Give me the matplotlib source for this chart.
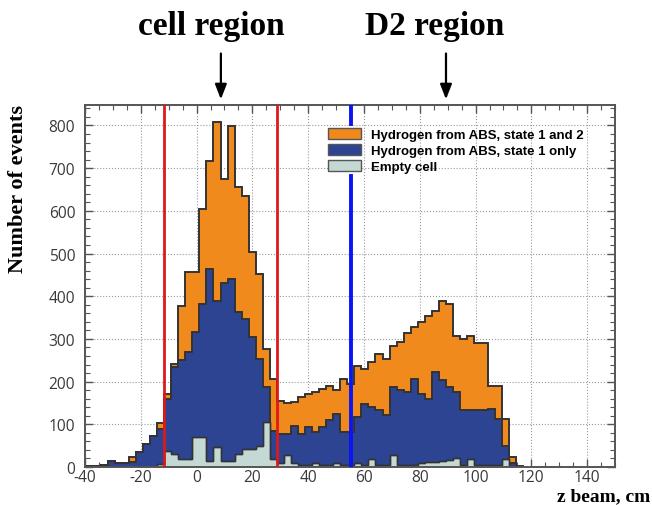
import numpy as np
import matplotlib
matplotlib.use("Agg")
import matplotlib.pyplot as plt
from matplotlib.patches import Patch
from matplotlib.ticker import MultipleLocator

# histogram binning (z beam, cm)
bin_start = -39.4
bin_width = 2.525

# counts per bin
state_1_and_2 = [2, 3, 5, 15, 9, 9, 23, 34, 54, 73, 103,
                 171, 241, 377, 456, 456, 605, 718, 809, 675, 798, 655, 634, 503, 452, 277, 206,
                 155, 150, 152, 164, 170, 175, 183, 189, 180, 207, 195, 237, 230, 245, 265, 253,
                 284, 292, 315, 327, 339, 354, 366, 389, 382, 306, 300, 308, 290, 290, 190, 190,
                 112, 23, 2]
state_1_only = [2, 3, 5, 15, 9, 9, 11, 34, 54, 73, 89,
                159, 234, 250, 270, 316, 382, 464, 388, 430, 441, 362, 347, 304, 254, 187, 85,
                77, 77, 97, 77, 93, 81, 93, 109, 124, 81, 82, 117, 148, 141, 133, 121,
                187, 180, 176, 207, 170, 159, 222, 203, 187, 176, 133, 133, 133, 133, 136, 112,
                50, 10, 0]
empty_cell = [0, 0, 0, 0, 0, 0, 0, 0, 0, 0, 6,
              38, 30, 19, 19, 70, 70, 15, 46, 15, 15, 30, 42, 42, 50, 105, 19,
              9, 28, 9, 4, 4, 9, 4, 4, 9, 4, 4, 9, 4, 19, 4, 4,
              28, 4, 4, 4, 10, 12, 12, 14, 16, 20, 5, 19, 5, 5, 5, 5,
              19, 3, 0]

cell_lines = [-11.6, 29.0]
d2_line = 55.5
x_ticks = [-40, -20, 0, 20, 40, 60, 80, 100, 120, 140]
x_ticklabels = ['-40', '-20', '0', '20', '40', '60', '80', '100', '120', '140']
y_ticks = [0, 100, 200, 300, 400, 500, 600, 700, 800]

edges = bin_start + bin_width * np.arange(len(state_1_and_2) + 1)

orange = '#f08a1c'
blue = '#2d4492'
grey = '#c4d8d4'
edge = '#333333'

fig = plt.figure(figsize=(6.52, 5.06), dpi=100)
ax = fig.add_axes([0.1304, 0.0751, 0.8129, 0.7154])

ax.stairs(state_1_and_2, edges, fill=True, facecolor=orange, edgecolor=edge, lw=1.2, zorder=2)
ax.stairs(state_1_and_2, edges, fill=False, color=edge, lw=1.2, zorder=2.1)
ax.stairs(state_1_only, edges, fill=True, facecolor=blue, edgecolor=edge, lw=1.2, zorder=2.2)
ax.stairs(state_1_only, edges, fill=False, color=edge, lw=1.2, zorder=2.3)
ax.stairs(empty_cell, edges, fill=True, facecolor=grey, edgecolor=edge, lw=1.0, zorder=2.4)
ax.stairs(empty_cell, edges, fill=False, color=edge, lw=1.0, zorder=2.5)

for x in cell_lines:
    ax.axvline(x, color='#dd1a1a', lw=2.0, zorder=4)
# blue line is interrupted behind the legend
ax.axvline(d2_line, ymin=0, ymax=0.804, color='#0a14f5', lw=2.8, zorder=4)
ax.axvline(d2_line, ymin=0.948, ymax=1, color='#0a14f5', lw=2.8, zorder=4)

ax.set_xlim(-40, 150)
ax.set_ylim(0, 848)
ax.set_xticks(x_ticks)
ax.set_xticklabels(x_ticklabels)
ax.set_yticks(y_ticks)
ax.xaxis.set_minor_locator(MultipleLocator(5))
ax.yaxis.set_minor_locator(MultipleLocator(20))
ax.tick_params(which='both', direction='in', top=True, right=True, color='#555555')
ax.tick_params(which='major', length=6, width=1)
ax.tick_params(which='minor', length=3.5, width=0.8)
ax.tick_params(axis='x', which='major', pad=1.5)
ax.tick_params(axis='y', which='major', pad=7)
for lab in ax.get_xticklabels() + ax.get_yticklabels():
    lab.set_fontfamily('Open Sans')
    lab.set_fontsize(11.2)
    lab.set_color('#3a3a3a')

ax.grid(True, which='major', linestyle=':', color='#9a9a9a', lw=0.8)
ax.set_axisbelow(True)
for s in ax.spines.values():
    s.set_color('#555555')
    s.set_linewidth(1.4)

handles = [Patch(facecolor=orange, edgecolor='#555555', lw=1.0),
           Patch(facecolor=blue, edgecolor='#555555', lw=1.0),
           Patch(facecolor=grey, edgecolor='#555555', lw=1.0)]
labels = ['Hydrogen from ABS, state 1 and 2', 'Hydrogen from ABS, state 1 only', 'Empty cell']
ax.legend(handles, labels, loc='upper left', bbox_to_anchor=(0.449, 0.950), borderaxespad=0,
          frameon=False, handlelength=2.5, handleheight=0.9, labelspacing=0.22,
          handletextpad=0.76, borderpad=0.35,
          prop={'family': 'Liberation Sans', 'weight': 'bold', 'size': 9.5})

serif = {'family': 'Liberation Serif', 'weight': 'bold'}
fig.text(0.028, 0.627, 'Number of events', rotation=90, ha='center', va='center', fontsize=16, **serif)
fig.text(0.997, 0.010, 'z beam, cm', ha='right', va='baseline', fontsize=14, **serif)

for x, name in [(8.7, 'cell region'), (89.4, 'D2 region')]:
    ax.annotate('', xy=(x, 1.008), xycoords=('data', 'axes fraction'),
                xytext=(x, 1.15), textcoords=('data', 'axes fraction'),
                arrowprops=dict(arrowstyle='-|>,head_length=0.9,head_width=0.35', color='black', lw=1.6))
ax.text(5.3, 1.197, 'cell region', transform=ax.get_xaxis_transform(), ha='center', va='baseline',
        fontsize=24, **serif)
ax.text(85.4, 1.197, 'D2 region', transform=ax.get_xaxis_transform(), ha='center', va='baseline',
        fontsize=24, **serif)

fig.savefig('out.png', dpi=100)
